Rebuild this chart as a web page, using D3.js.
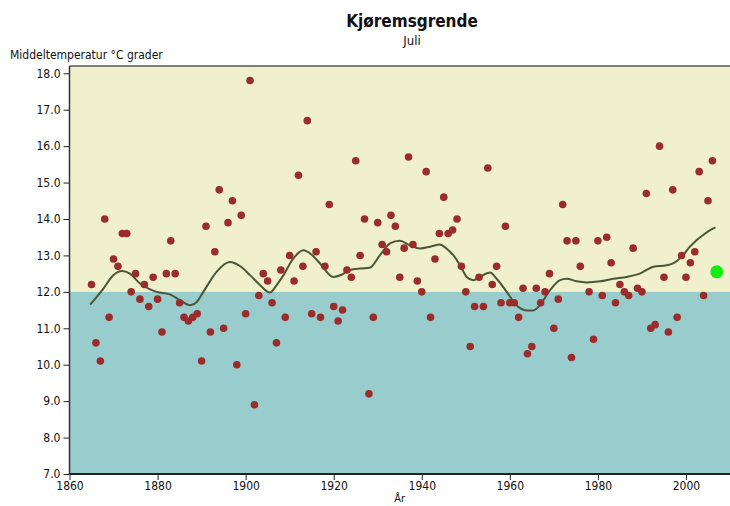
<!DOCTYPE html>
<html><head><meta charset="utf-8">
<script src="https://cdn.jsdelivr.net/npm/d3@7"></script>
<style>
body{margin:0;background:#fff;}
text{font-family:"DejaVu Sans Condensed","Liberation Sans Narrow","DejaVu Sans",sans-serif;}
</style></head>
<body><svg id="c" width="730" height="506"></svg>
<script>
const years = [1865,1866,1867,1868,1869,1870,1871,1872,1873,1874,1875,1876,1877,1878,1879,1880,1881,1882,1883,1884,1885,1886,1887,1888,1889,1890,1891,1892,1893,1894,1895,1896,1897,1898,1899,
1900,1901,1902,1903,1904,1905,1906,1907,1908,1909,1910,1911,1912,1913,1914,1915,1916,1917,1918,1919,1920,1921,1922,1923,1924,1925,1926,1927,1928,1929,
1930,1931,1932,1933,1934,1935,1936,1937,1938,1939,1940,1941,1942,1943,1944,1945,1946,1947,1948,1949,1950,1951,1952,1953,1954,1955,1956,1957,1958,1959,
1960,1961,1962,1963,1964,1965,1966,1967,1968,1969,1970,1971,1972,1973,1974,1975,1976,1978,1979,1980,1981,1982,1983,1984,1985,1986,1987,1988,1989,
1990,1991,1992,1993,1994,1995,1996,1997,1998,1999,2000,2001,2002,2003,2004,2005,2006];
const temps = [12.2,10.6,10.1,14.0,11.3,12.9,12.7,13.6,13.6,12.0,12.5,11.8,12.2,11.6,12.4,11.8,10.9,12.5,13.4,12.5,11.7,11.3,11.2,11.3,11.4,10.1,13.8,10.9,13.1,14.8,11.0,13.9,14.5,10.0,14.1,
11.4,17.8,8.9,11.9,12.5,12.3,11.7,10.6,12.6,11.3,13.0,12.3,15.2,12.7,16.7,11.4,13.1,11.3,12.7,14.4,11.6,11.2,11.5,12.6,12.4,15.6,13.0,14.0,9.2,11.3,
13.9,13.3,13.1,14.1,13.8,12.4,13.2,15.7,13.3,12.3,12.0,15.3,11.3,12.9,13.6,14.6,13.6,13.7,14.0,12.7,12.0,10.5,11.6,12.4,11.6,15.4,12.2,12.7,11.7,13.8,
11.7,11.7,11.3,12.1,10.3,10.5,12.1,11.7,12.0,12.5,11.0,11.8,14.4,13.4,10.2,13.4,12.7,12.0,10.7,13.4,11.9,13.5,12.8,11.7,12.2,12.0,11.9,13.2,12.1,
12.0,14.7,11.0,11.1,16.0,12.4,10.9,14.8,11.3,13.0,12.4,12.8,13.1,15.3,11.9,14.5,15.6];
const smoothYears = [1864.7,1867.7,1870,1871.9,1873.7,1876,1878.3,1879.8,1882.8,1885.1,1887.4,1888.9,1890.4,1893.4,1896.4,1898.7,1901,1903.3,1905.5,1907,1908.6,1910.8,1913.1,1915,1916.9,1919.9,1921.8,1923.7,1926,1928.2,1930.5,1932.8,1935,1937.3,1939.6,1941.9,1944.1,1945.6,1947.2,1948.7,1950.2,1951.7,1953.2,1955.5,1957,1959.3,1961.5,1963.8,1965.3,1966.8,1969.1,1971.4,1972.9,1975.2,1977.4,1980.5,1983.5,1986.5,1989.5,1992.6,1995.6,1997.1,1999,2000.9,2002.4,2003.9,2005.3,2006.7];
const smoothVals = [11.65,12.09,12.46,12.57,12.5,12.23,12.07,12.0,11.93,11.77,11.63,11.72,12.0,12.55,12.82,12.71,12.46,12.18,11.98,12.18,12.46,12.91,13.14,13.02,12.78,12.41,12.47,12.6,12.64,12.66,13.01,13.33,13.4,13.28,13.19,13.24,13.3,13.19,13.0,12.73,12.41,12.32,12.41,12.53,12.36,12.0,11.63,11.49,11.49,11.63,12.04,12.32,12.36,12.29,12.26,12.29,12.36,12.41,12.5,12.69,12.73,12.78,12.96,13.24,13.42,13.56,13.68,13.77];
const highlightYear = [2007];
const highlightVal = [12.55];
const normal = 12.0;
const yTicks = [7,8,9,10,11,12,13,14,15,16,17,18];
const xTicks = [1860,1880,1900,1920,1940,1960,1980,2000];

const svg = d3.select("#c");
const L=69.5, R=730, T=66, B=474;
const x = d3.scaleLinear().domain([1860,2010]).range([L,R]);
const y = d3.scaleLinear().domain([7,18.2]).range([B,T]);

svg.append("rect").attr("x",L).attr("y",T).attr("width",R-L).attr("height",y(normal)-T).attr("fill","#f0f0cc");
svg.append("rect").attr("x",L).attr("y",y(normal)).attr("width",R-L).attr("height",B-y(normal)).attr("fill","#99cccc");

const line = d3.line().x((d,i)=>x(smoothYears[i])).y(d=>y(d)).curve(d3.curveMonotoneX);
svg.append("path").attr("d",line(smoothVals)).attr("fill","none").attr("stroke","#4b5638").attr("stroke-width",2);

svg.append("g").selectAll("circle").data(temps).join("circle")
  .attr("cx",(d,i)=>x(years[i])).attr("cy",d=>y(d)).attr("r",3.8).attr("fill","#9b2c2c");
svg.append("g").selectAll("circle").data(highlightVal).join("circle")
  .attr("cx",(d,i)=>x(highlightYear[i])).attr("cy",d=>y(d)).attr("r",6.5).attr("fill","#11ee11");

const ya = svg.append("g").attr("transform",`translate(${L},0)`)
  .call(d3.axisLeft(y).tickValues(yTicks).tickFormat(d3.format(".1f")).tickSize(6).tickSizeOuter(0));
ya.select(".domain").remove();
const xa = svg.append("g").attr("transform",`translate(0,${B})`)
  .call(d3.axisBottom(x).tickValues(xTicks).tickFormat(d3.format("d")).tickSize(6).tickSizeOuter(0));
xa.select(".domain").remove();
[ya,xa].forEach(a=>{a.selectAll("text").attr("font-size",12).attr("fill","#111");a.selectAll("line").attr("stroke","#222");});
xa.selectAll("text").attr("dy","0.6em");
svg.append("line").attr("x1",L).attr("x2",L).attr("y1",T).attr("y2",B).attr("stroke","#333").attr("stroke-width",1.5);
svg.append("line").attr("x1",L).attr("x2",R).attr("y1",B).attr("y2",B).attr("stroke","#222").attr("stroke-width",2);
svg.append("line").attr("x1",L).attr("x2",R).attr("y1",T).attr("y2",T).attr("stroke","#555").attr("stroke-width",1.5);

svg.append("text").attr("x",412).attr("y",27).attr("text-anchor","middle").attr("font-size",17).attr("font-weight","bold").attr("fill","#111").text("Kjøremsgrende");
svg.append("text").attr("x",412).attr("y",45).attr("text-anchor","middle").attr("font-size",13).attr("fill","#111").text("Juli");
svg.append("text").attr("x",10).attr("y",59).attr("font-size",12).attr("fill","#111").text("Middeltemperatur °C grader");
svg.append("text").attr("x",(L+R)/2).attr("y",502).attr("text-anchor","middle").attr("font-size",11).attr("fill","#111").text("År");
</script></body></html>
